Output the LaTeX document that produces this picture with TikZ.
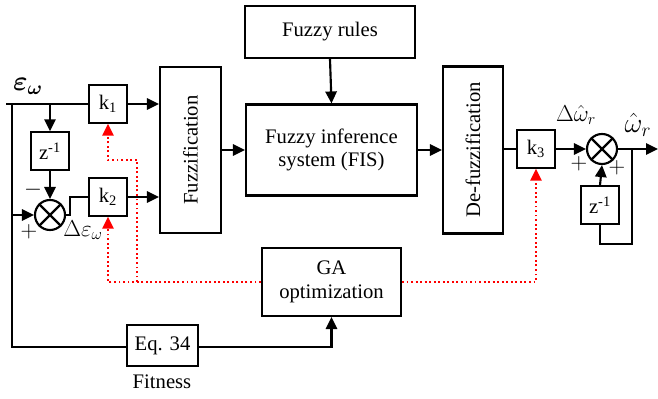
\documentclass[tikz,border=0pt]{standalone}
\usepackage{fontspec}
\setmainfont{Liberation Serif}
\usepackage{bm}
\usetikzlibrary{arrows.meta, shapes, positioning}

\begin{document}
\begin{tikzpicture}[x=0.75pt, y=-0.75pt, line width=1.6pt,
    >={Triangle[length=9pt, width=8.5pt]},
    font=\fontsize{15.5}{17.5}\selectfont,
    blk/.style={draw, inner sep=0pt, align=center},
    gain/.style={blk, minimum width=29pt, minimum height=28pt},
    summer/.style={draw, circle, minimum size=22.5pt, inner sep=0pt},
    sym/.style={inner sep=0pt, font=\fontsize{18}{20}\selectfont},
    gaarrow/.style={red, dotted, line width=1.4pt, ->}]
    \useasboundingbox (0,0) rectangle (658,399);

    % blocks
    \node[gain] (k1) at (108, 104) {k\textsubscript{1}};
    \node[gain] (k2) at (108, 197) {k\textsubscript{2}};
    \node[gain] (k3) at (536, 149) {k\textsubscript{3}};
    \node[gain] (zl) at (50, 151) {z\textsuperscript{-1}};
    \node[gain] (zr) at (600, 205) {z\textsuperscript{-1}};
    \node[blk, minimum width=45.75pt, minimum height=124.5pt] (fuzz) at (190.5, 150) {};
    \node[rotate=90] at (fuzz) {Fuzzification};
    \node[blk, minimum width=127.5pt, minimum height=39pt] (rules) at (330, 32) {Fuzzy rules};
    \node[blk, minimum width=128.25pt, minimum height=68.25pt] (fis) at (331.5, 150) {Fuzzy inference\\system (FIS)};
    \node[blk, minimum width=45pt, minimum height=125.25pt] (defuzz) at (473, 150) {};
    \node[rotate=90] at (defuzz) {De-fuzzification};
    \node[blk, minimum width=104.25pt, minimum height=51pt] (ga) at (331.5, 282) {GA\\optimization};
    \node[blk, minimum width=53.25pt, minimum height=30.75pt] (eq) at (162.5, 345.5) {Eq. 34};
    \node (fit) at (162, 382) {Fitness};

    % summing junctions
    \node[summer] (sl) at (50, 215) {};
    \node[summer] (sr) at (602, 149) {};
    \draw (sl.north west) -- (sl.south east);
    \draw (sl.north east) -- (sl.south west);
    \draw (sr.north west) -- (sr.south east);
    \draw (sr.north east) -- (sr.south west);

    % labels
    \node[inner sep=0pt, font=\fontsize{22}{24}\selectfont] (eps) at (28, 86) {$\bm{\varepsilon}_{\bm{\omega}}$};
    \node[sym] (deps) at (83, 230) {$\Delta\varepsilon_{\omega}$};
    \node[sym] (dom) at (576, 115) {$\Delta\hat{\omega}_r$};
    \node[sym, font=\fontsize{20}{22}\selectfont] (om) at (638, 125) {$\hat{\omega}_r$};
    \node[sym] (minus) at (33, 190) {$-$};
    \node[sym] (plusl) at (29, 232) {$+$};
    \node[sym] (plusa) at (579, 164) {$+$};
    \node[sym] (plusb) at (617, 168) {$+$};

    % coordinates
    \coordinate (in) at (6, 104);
    \coordinate (tapz) at (50, 104);
    \coordinate (tapl) at (12, 104);
    \coordinate (tapb) at (12, 347);
    \coordinate (tapm) at (12, 215);
    \coordinate (jog) at (70, 215);
    \coordinate (out) at (658, 149);
    \coordinate (fb) at (632, 149);
    \coordinate (fbd) at (632, 244);
    \coordinate (redk) at (137, 282);
    \coordinate (redt) at (137, 160);

    % signal paths
    \draw (in) -- (k1.west);
    \draw[->] (k1.east) -- (k1.east -| fuzz.west);
    \draw[->] (tapz) -- (zl.north);
    \draw[->] (zl.south) -- (sl.north);
    \draw (tapl) -- (tapb) -- (eq.west |- tapb);
    \draw[->] (tapm) -- (sl.west);
    \draw (sl.east) -- (jog) |- (k2.west);
    \draw[->] (k2.east) -- (k2.east -| fuzz.west);
    \draw[->] (fuzz.east) -- (fis.west);
    \draw[->] (rules.south) -- (fis.north);
    \draw[->] (fis.east) -- (defuzz.west);
    \draw (defuzz.east |- k3.west) -- (k3.west);
    \draw[->] (k3.east) -- (sr.west);
    \draw[->] (sr.east) -- (out);
    \draw (fb) -- (fbd) -| (zr.south);
    \draw[->] (zr.north) -- (sr.south);
    \draw[->] (eq.east |- tapb) -| (ga.south);

    % GA tuning
    \draw[gaarrow] (ga.west) -| (k2.south);
    \draw[gaarrow] (redk) -- (redt) -| (k1.south);
    \draw[gaarrow] (ga.east) -| (k3.south);
\end{tikzpicture}
\end{document}
